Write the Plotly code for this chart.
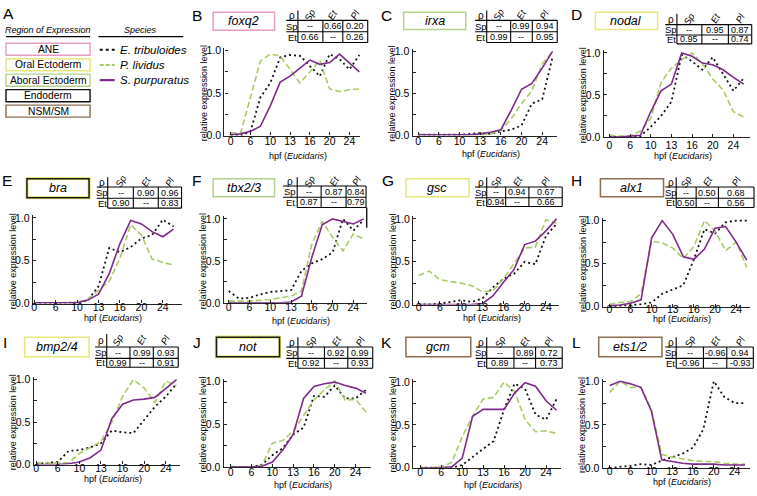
import plotly.graph_objects as go

W, H = 757, 496

# ---------------- data ----------------
TIME_IDX = list(range(14))
TICK_IDX = [0, 2, 4, 6, 8, 10, 12]
TICK_LABELS = ["0", "6", "10", "13", "16", "20", "24"]
Y_TICKS = [0, 0.25, 0.5, 0.75, 1.0]
Y_TICK_LABELS = ["0.0", "", "0.5", "", "1.0"]

SPECIES = ["E. tribuloides", "P. lividus", "S. purpuratus"]
REGIONS = ["ANE", "Oral Ectoderm", "Aboral Ectoderm", "Endoderm", "NSM/SM"]

foxq2_et = [0.0, 0.0, 0.05, 0.45, 0.62, 0.92, 0.95, 0.94, 0.82, 0.7, 0.96, 0.9, 0.78, 0.95]
foxq2_pl = [0.03, 0.03, 0.45, 0.88, 0.96, 0.94, 0.78, 0.62, 0.75, 0.89, 0.55, 0.52, 0.54, 0.55]
foxq2_sp = [0.01, 0.02, 0.05, 0.11, 0.35, 0.63, 0.70, 0.79, 0.89, 0.84, 0.86, 0.96, 0.85, 0.75]

irxa_et = [0.01, 0.01, 0.01, 0.01, 0.01, 0.02, 0.03, 0.02, 0.05, 0.07, 0.12, 0.38, 0.43, 0.93]
irxa_pl = [0.01, 0.01, 0.01, 0.01, 0.01, 0.01, 0.01, 0.02, 0.06, 0.2, 0.38, 0.53, 0.85, 1.0]
irxa_sp = [0.01, 0.01, 0.01, 0.01, 0.01, 0.01, 0.02, 0.04, 0.07, 0.3, 0.55, 0.62, 0.8, 1.0]

nodal_et = [0.0, 0.0, 0.0, 0.01, 0.12, 0.25, 0.42, 0.98, 0.9, 0.8, 0.95, 0.75, 0.55, 0.7]
nodal_pl = [0.02, 0.01, 0.01, 0.07, 0.22, 0.65, 0.82, 0.92, 1.0, 0.87, 0.69, 0.56, 0.3, 0.24]
nodal_sp = [0.0, 0.0, 0.01, 0.02, 0.3, 0.55, 0.63, 1.0, 0.96, 0.88, 0.86, 0.8, 0.71, 0.63]

bra_et = [0.0, 0.0, 0.0, 0.01, 0.01, 0.04, 0.2, 0.65, 0.6, 0.66, 0.76, 0.8, 0.98, 0.9]
bra_pl = [0.01, 0.01, 0.01, 0.01, 0.01, 0.05, 0.16, 0.26, 0.53, 0.92, 0.8, 0.52, 0.48, 0.45]
bra_sp = [0.01, 0.01, 0.01, 0.01, 0.01, 0.04, 0.11, 0.35, 0.7, 0.97, 0.93, 0.84, 0.78, 0.87]

tbx23_et = [0.14, 0.05, 0.06, 0.1, 0.13, 0.14, 0.15, 0.38, 0.47, 0.52, 0.6, 1.0, 0.86, 0.99]
tbx23_pl = [0.02, 0.02, 0.02, 0.03, 0.04, 0.06, 0.08, 0.14, 0.7, 0.97, 0.78, 0.62, 0.82, 0.76]
tbx23_sp = [0.0, 0.0, 0.0, 0.0, 0.0, 0.0, 0.01, 0.08, 0.54, 0.93, 1.0, 0.97, 0.94, 1.0]

gsc_et = [0.0, 0.0, 0.01, 0.03, 0.05, 0.03, 0.07, 0.2, 0.3, 0.36, 0.5, 0.47, 0.8, 0.94]
gsc_pl = [0.34, 0.39, 0.29, 0.27, 0.25, 0.22, 0.15, 0.16, 0.3, 0.48, 0.66, 0.67, 0.99, 0.95]
gsc_sp = [0.0, 0.0, 0.0, 0.0, 0.0, 0.0, 0.01, 0.1, 0.26, 0.41, 0.7, 0.74, 0.86, 1.0]

alx1_et = [0.0, 0.01, 0.02, 0.03, 0.05, 0.15, 0.2, 0.25, 0.55, 0.9, 0.85, 0.98, 1.0, 1.0]
alx1_pl = [0.03, 0.05, 0.06, 0.15, 0.76, 0.74, 0.68, 0.56, 0.7, 1.0, 0.88, 0.65, 0.75, 0.46]
alx1_sp = [0.01, 0.02, 0.04, 0.08, 0.8, 1.0, 0.84, 0.58, 0.55, 0.67, 0.91, 0.93, 0.75, 0.54]

bmp24_et = [0.01, 0.02, 0.03, 0.16, 0.17, 0.2, 0.25, 0.4, 0.38, 0.37, 0.52, 0.68, 0.8, 0.95]
bmp24_pl = [0.02, 0.02, 0.02, 0.02, 0.13, 0.2, 0.27, 0.5, 0.8, 1.0, 0.9, 0.73, 0.98, 0.93]
bmp24_sp = [0.0, 0.0, 0.0, 0.01, 0.03, 0.08, 0.17, 0.54, 0.71, 0.76, 0.77, 0.79, 0.9, 1.0]

not_et = [0.0, 0.0, 0.0, 0.03, 0.14, 0.22, 0.38, 0.46, 0.83, 0.82, 0.95, 0.8, 0.8, 0.9]
not_pl = [0.01, 0.0, 0.0, 0.02, 0.28, 0.31, 0.42, 0.6, 0.78, 0.9, 1.0, 0.78, 0.79, 0.64]
not_sp = [0.0, 0.0, 0.0, 0.01, 0.06, 0.2, 0.38, 0.8, 0.94, 0.97, 0.99, 0.95, 0.92, 0.86]

gcm_et = [0.0, 0.0, 0.0, 0.0, 0.03, 0.13, 0.22, 0.31, 0.68, 0.98, 0.92, 0.62, 0.56, 0.8]
gcm_pl = [0.0, 0.0, 0.01, 0.06, 0.36, 0.6, 0.8, 0.82, 1.0, 0.89, 0.56, 0.42, 0.43, 0.4]
gcm_sp = [0.0, 0.0, 0.0, 0.01, 0.11, 0.6, 0.68, 0.68, 0.68, 0.87, 0.99, 0.95, 0.78, 0.67]

ets12_et = [0.0, 0.02, 0.03, 0.05, 0.04, 0.09, 0.13, 0.17, 0.24, 0.45, 1.0, 0.82, 0.75, 0.75]
ets12_pl = [0.87, 1.0, 0.93, 0.93, 0.68, 0.16, 0.13, 0.11, 0.09, 0.08, 0.08, 0.06, 0.05, 0.05]
ets12_sp = [0.95, 1.0, 0.97, 0.93, 0.66, 0.1, 0.08, 0.06, 0.05, 0.05, 0.05, 0.04, 0.04, 0.04]

# correlation tables: rows Sp, Et ; columns Sp, Et, Pl
foxq2_rho = [["--", "0.66", "0.20"], ["0.66", "--", "0.26"]]
irxa_rho = [["--", "0.99", "0.94"], ["0.99", "--", "0.95"]]
nodal_rho = [["--", "0.95", "0.87"], ["0.95", "--", "0.74"]]
bra_rho = [["--", "0.90", "0.96"], ["0.90", "--", "0.83"]]
tbx23_rho = [["--", "0.87", "0.84"], ["0.87", "--", "0.79"]]
gsc_rho = [["--", "0.94", "0.67"], ["0.94", "--", "0.66"]]
alx1_rho = [["--", "0.50", "0.68"], ["0.50", "--", "0.56"]]
bmp24_rho = [["--", "0.99", "0.93"], ["0.99", "--", "0.91"]]
not_rho = [["--", "0.92", "0.99"], ["0.92", "--", "0.93"]]
gcm_rho = [["--", "0.89", "0.72"], ["0.89", "--", "0.73"]]
ets12_rho = [["--", "-0.96", "0.94"], ["-0.96", "--", "-0.93"]]

# ---------------- styles / geometry ----------------
C_ET, C_PL, C_SP = "#111111", "#a6cc62", "#7d2a8c"
REGION_COLORS = {"ANE": "#e59cc2", "Oral Ectoderm": "#e6e67a", "Aboral Ectoderm": "#b3d28a",
                 "Endoderm": "#111111", "NSM/SM": "#8c6d4f"}
FONT = "Liberation Sans"

panels = [
    dict(letter="B", gene="foxq2", region="ANE", et=foxq2_et, pl=foxq2_pl, sp=foxq2_sp, rho=foxq2_rho,
         xa=223, xe=359, i0=229.3, i13=358.3, top=47.7, bot=134.3, box=(211.7, 8.3, 273.3, 26.7),
         tab=(285, 296.7, 321.7, 341.7, 366.7, 6.7, 16.7, 28.3, 39.3), let=(195.5, 11.5), xt=20.7, tl=8),
    dict(letter="C", gene="irxa", region="Aboral Ectoderm", et=irxa_et, pl=irxa_pl, sp=irxa_sp, rho=irxa_rho,
         xa=411.7, xe=556.7, i0=417.3, i13=552, top=48.3, bot=134.3, box=(402.7, 8.3, 465, 26),
         tab=(474.3, 486, 510, 531.7, 556.7, 6.7, 16.7, 28.3, 39.3), let=(385.5, 11.5), xt=18.3, tl=7),
    dict(letter="D", gene="nodal", region="Oral Ectoderm", et=nodal_et, pl=nodal_pl, sp=nodal_sp, rho=nodal_rho,
         xa=603.3, xe=750, i0=609, i13=743.7, top=50, bot=135.7, box=(595, 8.3, 657.3, 26),
         tab=(665, 676.7, 701.7, 728.3, 751.7, 10, 21, 31.7, 40.7), let=(576, 10.5), xt=19.3, tl=9),
    dict(letter="E", gene="bra", region="Endoderm", et=bra_et, pl=bra_pl, sp=bra_sp, rho=bra_rho, halo=True,
         xa=31, xe=180, i0=32.3, i13=172, top=218.3, bot=305.7, box=(25, 178.3, 87.3, 197.7),
         tab=(95, 106, 131.7, 156.7, 180, 176.7, 186.7, 198.3, 208.3), let=(5.5, 180.5), xt=14.5, tl=5),
    dict(letter="F", gene="tbx2/3", region="Aboral Ectoderm", et=tbx23_et, pl=tbx23_pl, sp=tbx23_sp, rho=tbx23_rho,
         xa=222.3, xe=366, i0=227.3, i13=362.7, top=219.3, bot=305, box=(211.7, 178.3, 273.3, 196.7),
         tab=(281.7, 296, 320, 345, 365, 176.7, 185.7, 197.3, 207.7), let=(195, 180.5), tail=True, xt=19, tl=6),
    dict(letter="G", gene="gsc", region="Oral Ectoderm", et=gsc_et, pl=gsc_pl, sp=gsc_sp, rho=gsc_rho,
         xa=412.3, xe=558, i0=417.7, i13=556, top=219.3, bot=306.7, box=(405, 178.3, 468.3, 196.7),
         tab=(474.3, 486, 505, 528.3, 561.7, 176.7, 186.7, 197.7, 206.7), let=(387, 180.5), xt=13.5, tl=4.5),
    dict(letter="H", gene="alx1", region="NSM/SM", et=alx1_et, pl=alx1_pl, sp=alx1_sp, rho=alx1_rho,
         xa=602.3, xe=750, i0=609, i13=746.7, top=221, bot=309, box=(600, 178.3, 663.3, 196.7),
         tab=(665, 676, 696, 718.3, 754, 176.7, 186.7, 198.3, 207.7), let=(576, 180.5), xt=12, tl=3.5),
    dict(letter="I", gene="bmp2/4", region="Oral Ectoderm", et=bmp24_et, pl=bmp24_pl, sp=bmp24_sp, rho=bmp24_rho,
         xa=31.7, xe=178, i0=34.3, i13=175, top=383.3, bot=470, box=(22.7, 340, 87.3, 360),
         tab=(93.3, 105, 128.3, 151.7, 176.7, 336.7, 350, 361.7, 370.7), let=(3.5, 345.7), xt=15, tl=6),
    dict(letter="J", gene="not", region="Endoderm", et=not_et, pl=not_pl, sp=not_sp, rho=not_rho, halo=True,
         xa=222.3, xe=370, i0=229.3, i13=365, top=385, bot=472.7, box=(215, 340, 278.3, 360),
         tab=(285, 296.7, 323.3, 346.7, 371.7, 340, 350, 361.7, 371.7), let=(195.5, 345.7), xt=18.5, tl=6.3),
    dict(letter="K", gene="gcm", region="NSM/SM", et=gcm_et, pl=gcm_pl, sp=gcm_sp, rho=gcm_rho,
         xa=412.3, xe=560, i0=419.3, i13=556, top=385.7, bot=473.3, box=(405, 340, 470, 360),
         tab=(475, 486, 513.3, 535, 561.7, 340, 350, 361.7, 371.7), let=(386, 345.7), xt=17.5, tl=5.7),
    dict(letter="L", gene="ets1/2", region="NSM/SM", et=ets12_et, pl=ets12_pl, sp=ets12_sp, rho=ets12_rho,
         xa=602.3, xe=750, i0=609.3, i13=745, top=385, bot=474, box=(598.3, 340, 661.7, 360),
         tab=(665, 676, 703.3, 726.7, 753.3, 340, 350, 361.7, 371.7), let=(576, 345.7), xt=13.5, tl=4.5),
]


def X(px):
    return px / W


def Y(py):
    return 1 - py / H


fig = go.Figure()
layout = dict(width=W, height=H, margin=dict(l=0, r=0, t=0, b=0), showlegend=False,
              paper_bgcolor="white", plot_bgcolor="white", font=dict(family=FONT, color="black"))
shapes, annots = [], []
YMAX = 1.03
DEFAULT_TL = 11.5  # approx. default centre offset of x tick labels below axis


def line(x0, y0, x1, y1, color="black", width=1.1, dash=None):
    d = dict(type="line", xref="paper", yref="paper", x0=X(x0), y0=Y(y0), x1=X(x1), y1=Y(y1),
             line=dict(color=color, width=width))
    if dash:
        d["line"]["dash"] = dash
    shapes.append(d)


def rect(x0, y0, x1, y1, color, width=1.4):
    shapes.append(dict(type="rect", xref="paper", yref="paper", x0=X(x0), y0=Y(y0), x1=X(x1), y1=Y(y1),
                       line=dict(color=color, width=width), fillcolor="rgba(0,0,0,0)"))


def text(x, y, s, size, xanchor="center", angle=0, italic=False):
    annots.append(dict(xref="paper", yref="paper", x=X(x), y=Y(y), text=(f"<i>{s}</i>" if italic else s),
                       showarrow=False, xanchor=xanchor, yanchor="middle", textangle=angle,
                       font=dict(size=size, family=FONT, color="black")))


for k, p in enumerate(panels, start=1):
    xs = "x" if k == 1 else f"x{k}"
    ys = "y" if k == 1 else f"y{k}"
    s = (p["i13"] - p["i0"]) / 13
    xr = [(p["xa"] - p["i0"]) / s, (p["xe"] - p["i0"]) / s]
    ytop_px = p["bot"] - (p["bot"] - p["top"]) * YMAX
    axis_common = dict(showline=True, linecolor="#222", linewidth=1.3, ticks="inside", ticklen=3,
                       tickwidth=1.1, tickcolor="#222", showgrid=False, zeroline=False,
                       tickfont=dict(size=10.5, family=FONT, color="black"))
    layout["xaxis" if k == 1 else f"xaxis{k}"] = dict(
        domain=[X(p["xa"]), X(p["xe"])], range=xr, anchor=ys, tickmode="array",
        tickvals=TICK_IDX, ticktext=TICK_LABELS, ticklabelstandoff=int(round(p["tl"] - DEFAULT_TL)),
        **axis_common)
    layout["yaxis" if k == 1 else f"yaxis{k}"] = dict(
        domain=[Y(p["bot"]), Y(ytop_px)], range=[0, YMAX], anchor=xs, tickmode="array",
        tickvals=Y_TICKS, ticktext=Y_TICK_LABELS, **axis_common)

    for vals, col, dash, wdt in [(p["et"], C_ET, "2px,3px", 1.8), (p["pl"], C_PL, "6px,3px", 1.6),
                                 (p["sp"], C_SP, None, 1.6)]:
        ln = dict(color=col, width=wdt)
        if dash:
            ln["dash"] = dash
        fig.add_trace(go.Scatter(x=TIME_IDX, y=vals, mode="lines", line=ln, xaxis=xs, yaxis=ys,
                                 hoverinfo="skip"))

    # axis titles
    cy = (p["top"] + p["bot"]) / 2
    text(p["xa"] - 20.5, cy, "relative expression level", 9, angle=-90)
    text((p["xa"] + p["xe"]) / 2 + 6, p["bot"] + p["xt"], "hpf (<i>Eucidaris</i>)", 9)

    # letter
    text(p["let"][0], p["let"][1], p["letter"], 15.5)

    # gene box
    bx0, by0, bx1, by1 = p["box"]
    if p.get("halo"):
        rect(bx0, by0, bx1, by1, REGION_COLORS["Oral Ectoderm"], width=3.2)
        rect(bx0, by0, bx1, by1, "#1a1a1a", width=1.5)
    else:
        rect(bx0, by0, bx1, by1, REGION_COLORS[p["region"]], width=1.5)
    text((bx0 + bx1) / 2, (by0 + by1) / 2, p["gene"], 12.5, italic=True)

    # correlation table
    lx, bx, c1, c2, rx, ht, hb, mb, bb = p["tab"]
    line(bx, ht, bx, bb)
    line(lx, hb, rx, hb)
    line(lx, mb, rx, mb)
    line(bx, bb, rx, bb)
    line(c1, hb, c1, bb)
    line(c2, hb, c2, bb)
    line(rx, hb, rx, bb)
    if p.get("tail"):
        line(rx + 0.7, bb, rx + 0.7, bb + 20.6, width=1.3)
    text((lx + bx) / 2, (ht + hb) / 2, "ρ", 10)
    cols = [(bx, c1), (c1, c2), (c2, rx)]
    for (a, b), hdr in zip(cols, ["Sp", "Et", "Pl"]):
        text((a + b) / 2, (ht + hb) / 2 - 0.5, hdr, 9.5, angle=-60, italic=True)
    for r, (ra, rb, lbl) in enumerate([(hb, mb, "Sp"), (mb, bb, "Et")]):
        text((lx + bx) / 2, (ra + rb) / 2, lbl, 9.5)
        for c, (a, b) in enumerate(cols):
            text((a + b) / 2, (ra + rb) / 2, p["rho"][r][c], 9)

# ---------------- panel A : legend ----------------
text(7, 10, "A", 15.5)
text(46, 27, "Region of Expression", 9, italic=True)
line(4, 33.3, 88.3, 33.3, width=1.1)
text(139, 27, "Species", 9, italic=True)
line(96.7, 33.3, 181.7, 33.3, width=1.1)
for i, reg in enumerate(REGIONS):
    y0 = 40 + i * 15.8
    rect(4, y0, 88.3, y0 + 12.3, REGION_COLORS[reg], width=1.4)
    text(46.2, y0 + 6.3, reg, 10.3)
for i, (sp_name, col, dash, wdt) in enumerate([(SPECIES[0], C_ET, "3px,3px", 2.2),
                                                (SPECIES[1], C_PL, "4px,2px", 2.0),
                                                (SPECIES[2], C_SP, None, 2.2)]):
    yy = 46.7 + i * 15.5
    line(98, yy, 113, yy, color=col, width=wdt, dash=dash)
    text(116.5, yy, sp_name, 11.5, xanchor="left", italic=True)

layout["shapes"] = shapes
layout["annotations"] = annots
fig.update_layout(**layout)
fig.write_html("out.html", config={"displayModeBar": False},
               post_script="document.body.style.margin='0px';document.body.style.overflow='hidden';")
